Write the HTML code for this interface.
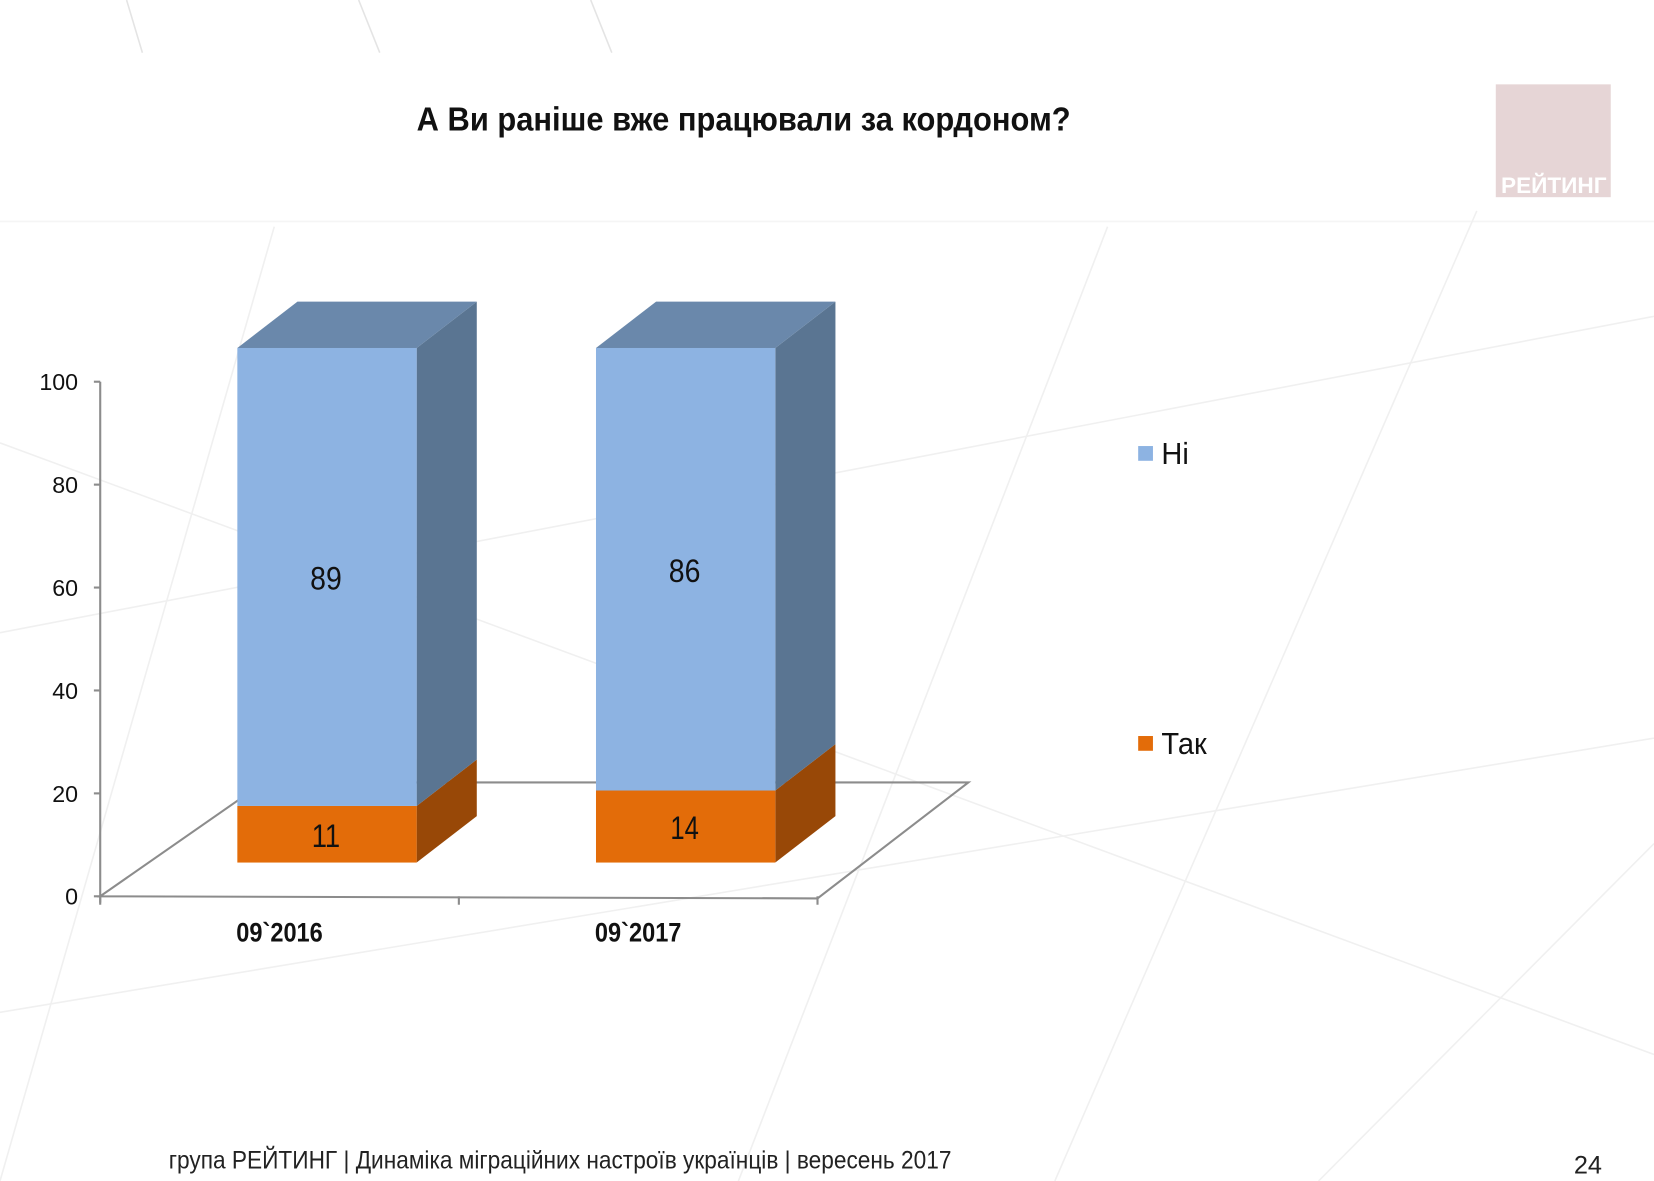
<!DOCTYPE html>
<html><head><meta charset="utf-8"><style>
html,body{margin:0;padding:0;background:#fff;}
svg{display:block;}
text{font-family:"Liberation Sans",sans-serif;}
</style></head><body>
<svg id="chart" width="1654" height="1181" viewBox="0 0 1568 1120" preserveAspectRatio="none" xmlns="http://www.w3.org/2000/svg">
<g stroke="#f0f0f0" stroke-width="1.5" fill="none">
<line x1="0" y1="210" x2="1568" y2="210" stroke="#f5f5f5"/>
<line x1="120" y1="0" x2="135" y2="50" stroke="#e4e4e4"/>
<line x1="340" y1="0" x2="360" y2="50" stroke="#e4e4e4"/>
<line x1="560" y1="0" x2="580" y2="50" stroke="#e4e4e4"/>
<line x1="0" y1="420" x2="1568" y2="1000"/>
<line x1="0" y1="600" x2="1568" y2="300"/>
<line x1="260" y1="215" x2="0" y2="1120"/>
<line x1="1050" y1="215" x2="700" y2="1120"/>
<line x1="1400" y1="200" x2="1000" y2="1120"/>
<line x1="1250" y1="1120" x2="1568" y2="800"/>
<line x1="0" y1="960" x2="1568" y2="700"/>
</g>
<text x="395" y="124" font-size="32" font-weight="bold" fill="#111" textLength="620" lengthAdjust="spacingAndGlyphs">А Ви раніше вже працювали за кордоном?</text>
<g>
<rect x="1418" y="80" width="109" height="107" fill="#e6d5d6"/>
<text x="1473" y="183" text-anchor="middle" font-size="21" font-weight="bold" fill="#fff" textLength="100" lengthAdjust="spacingAndGlyphs">РЕЙТИНГ</text>
</g>
<g id="plot"></g>
<g>
<g><rect x="1079" y="423" width="14" height="14" fill="#8db3e2"/><text x="1101" y="440" font-size="29" fill="#111" textLength="26" lengthAdjust="spacingAndGlyphs">Ні</text></g>
<g><rect x="1079" y="698" width="14" height="14" fill="#e36c09"/><text x="1101" y="715" font-size="29" fill="#111" textLength="43" lengthAdjust="spacingAndGlyphs">Так</text></g>
</g>
<text x="160" y="1108" font-size="24" fill="#222" textLength="742" lengthAdjust="spacingAndGlyphs">група РЕЙТИНГ  | Динаміка міграційних настроїв українців  |  вересень 2017</text>
<text x="1492" y="1113" font-size="24" fill="#222">24</text>
</svg>
<script>
const categories = ["09`2016", "09`2017"];
const takValues = [11, 14];
const niValues = [89, 86];
const yTicks = [0, 20, 40, 60, 80, 100];

const NS = "http://www.w3.org/2000/svg";
const plot = document.getElementById("plot");
const axisX = 95, y0 = 850, pxPerUnit = 4.88;
const barBase = 818, dx = 57, dy = -44, barW = 170;
const yScale = v => y0 - v * pxPerUnit;
const barY = v => barBase - v * pxPerUnit;
const barX = i => 225 + i * 340;
function mk(tag, attrs, parent) {
  const e = document.createElementNS(NS, tag);
  for (const k in attrs) e.setAttribute(k, attrs[k]);
  (parent || plot).appendChild(e);
  return e;
}
const floor = mk("polygon", {points: `${axisX},${y0} ${axisX+155},742 918,742 775,852`, fill: "none", stroke: "#8c8c8c", "stroke-width": 2});


const yAxis = mk("line", {x1: axisX, y1: yScale(100), x2: axisX, y2: y0 + 6, stroke: "#8c8c8c", "stroke-width": 2});


yTicks.forEach(t => {
  const y = yScale(t);
  const tk = mk("line", {x1: axisX - 6, y1: y, x2: axisX, y2: y, stroke: "#8c8c8c", "stroke-width": 2});
  
  
  const lb = mk("text", {x: 74, y: y + 8, "text-anchor": "end", "font-size": 22, fill: "#111"});
  lb.textContent = t;
  
  
});
[95, 435, 775].forEach(x => {
  const tk = mk("line", {x1: x, y1: 850, x2: x, y2: 858, stroke: "#8c8c8c", "stroke-width": 2});
  
  
});
function box(x, yTop, yBot, front, side, top, name) {
  const g = mk("g", {});
  
  
  mk("polygon", {points: `${x+barW},${yTop} ${x+barW+dx},${yTop+dy} ${x+barW+dx},${yBot+dy} ${x+barW},${yBot}`, fill: side}, g);
  if (top) mk("polygon", {points: `${x},${yTop} ${x+dx},${yTop+dy} ${x+barW+dx},${yTop+dy} ${x+barW},${yTop}`, fill: top}, g);
  mk("rect", {x: x, y: yTop, width: barW, height: yBot - yTop, fill: front}, g);
  return g;
}
categories.forEach((c, i) => {
  const x = barX(i);
  const t = takValues[i], n = niValues[i];
  box(x, barY(t), barBase, "#e36c09", "#984807", null, "bar-tak-" + i);
  box(x, barY(t + n), barY(t), "#8db3e2", "#5a7592", "#6a88ab", "bar-ni-" + i);
  const l1 = mk("text", {x: x + barW/2 - 1, y: (barY(t) + barBase)/2 + 12, "text-anchor": "middle", "font-size": 31, fill: "#111", textLength: 27, lengthAdjust: "spacingAndGlyphs"});
  l1.textContent = t;
  
  
  const l2 = mk("text", {x: x + barW/2 - 1, y: (barY(t+n) + barY(t))/2 + 12, "text-anchor": "middle", "font-size": 31, fill: "#111", textLength: 30, lengthAdjust: "spacingAndGlyphs"});
  l2.textContent = n;
  
  
  const cl = mk("text", {x: 265 + i * 340, y: 893, "text-anchor": "middle", "font-size": 25, "font-weight": "bold", fill: "#111", textLength: 82, lengthAdjust: "spacingAndGlyphs"});
  cl.textContent = c;
  
  
});
</script>
</body></html>
